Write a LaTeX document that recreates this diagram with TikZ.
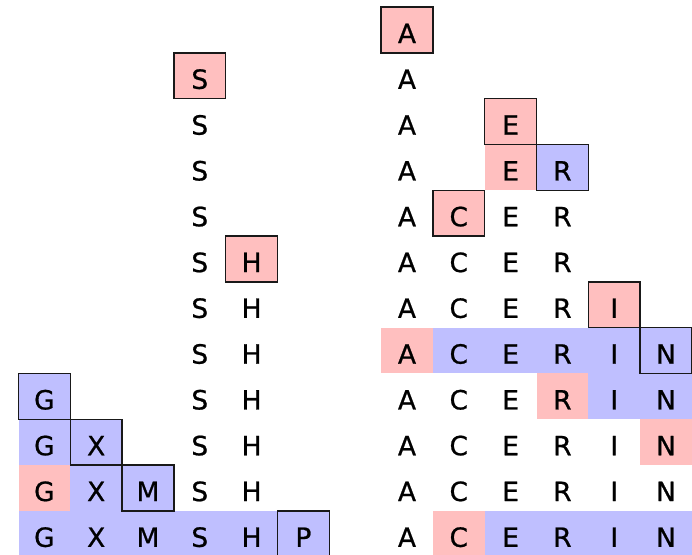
\documentclass[tikz,border=0pt]{standalone}
\usepackage{fontspec}
\setmainfont{DejaVu Sans}
\newfontfamily\cellfont[FakeBold=0.8]{DejaVu Sans}
\definecolor{redfill}{RGB}{255,191,191}
\definecolor{bluefill}{RGB}{191,191,255}
\newcommand{\cellletter}[1]{\ifcase#1 G\or X\or M\or S\or H\or P\or\or A\or C\or E\or R\or I\or N\fi}
\begin{document}
\begin{tikzpicture}[x=1pt,y=-1pt,
  cellframe/.style={draw=black!90, line width=1.4pt},
  letter/.style={font=\cellfont\fontsize{26.5}{26.5}\selectfont, inner sep=0pt, anchor=center}]
\useasboundingbox (0,0) rectangle (692,554);
\def\cw{51.8}\def\ch{45.8}\def\ox{18.5}\def\oy{7}
% blue fills (row/col/count)
\foreach \r/\c/\n in {3/10/1, 7/8/5, 8/0/1, 8/11/2, 9/0/2, 10/1/2, 11/0/6, 11/9/4}
  \fill[bluefill] ({\ox+\c*\cw},{\oy+\r*\ch}) rectangle ++({\n*\cw},\ch);
% red fills
\foreach \r/\c/\n in {0/7/1, 1/3/1, 2/9/1, 3/9/1, 4/8/1, 5/4/1, 6/11/1, 7/7/1, 8/10/1, 9/12/1, 10/0/1, 11/8/1}
  \fill[redfill] ({\ox+\c*\cw},{\oy+\r*\ch}) rectangle ++({\n*\cw},\ch);
% framed cells
\foreach \r/\c in {0/7, 1/3, 2/9, 4/8, 5/4, 6/11, 3/10, 7/12, 8/0, 9/1, 10/2, 11/5}
  \draw[cellframe] ({\ox+\c*\cw},{\oy+\r*\ch}) rectangle ++(\cw,\ch);
% letters
\foreach \r/\cols in {0/{7}, 1/{3,7}, 2/{3,7,9}, 3/{3,7,9,10}, 4/{3,7,8,9,10},
  5/{3,4,7,8,9,10}, 6/{3,4,7,8,9,10,11}, 7/{3,4,7,8,9,10,11,12},
  8/{0,3,4,7,8,9,10,11,12}, 9/{0,1,3,4,7,8,9,10,11,12},
  10/{0,1,2,3,4,7,8,9,10,11,12}, 11/{0,1,2,3,4,5,7,8,9,10,11,12}}
  \foreach \c in \cols
    \node[letter] (L\r-\c) at ({\ox+(\c+0.5)*\cw},{\oy+(\r+0.5)*\ch+3.5}) {\cellletter{\c}};
\end{tikzpicture}
\end{document}
